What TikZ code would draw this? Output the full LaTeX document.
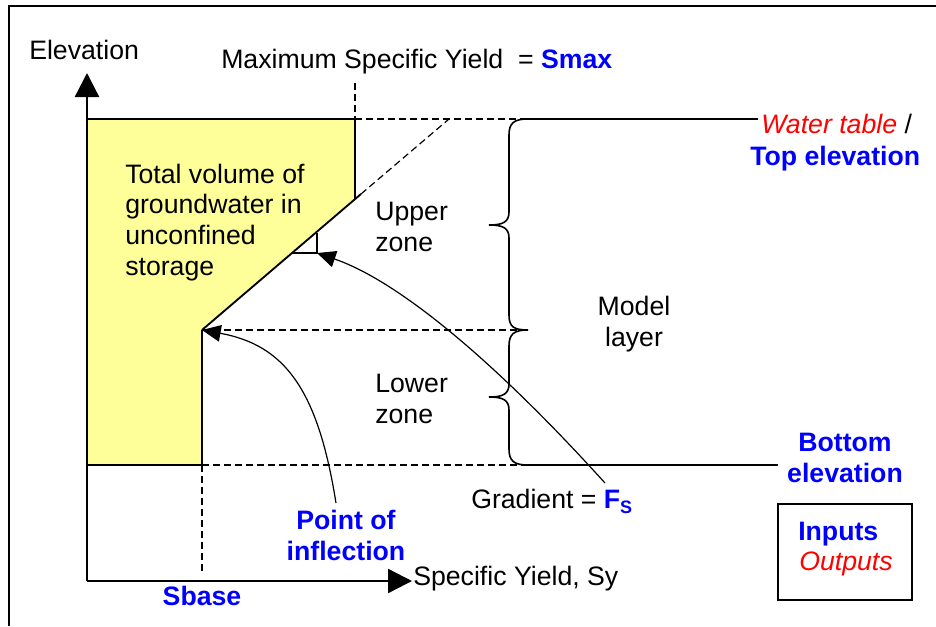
\documentclass[tikz,border=0pt]{standalone}
\usepackage{fontspec}
\setmainfont{Liberation Sans}
\usetikzlibrary{arrows.meta}
\definecolor{inblue}{RGB}{0,0,255}
\definecolor{outred}{RGB}{255,0,0}
\definecolor{storage}{RGB}{255,255,153}

\begin{document}
\begin{tikzpicture}[x=0.75pt,y=-0.75pt,
  lbl/.style={inner sep=0pt, font=\fontsize{20}{23}\selectfont},
  inp/.style={lbl, text=inblue, font=\fontsize{20}{23}\selectfont\bfseries},
  outp/.style={lbl, text=outred, font=\fontsize{20}{23}\selectfont\itshape},
  guide/.style={dash pattern=on 5.25pt off 3pt, line width=0.9pt},
  axis/.style={line width=1.8pt, -{Triangle[length=18pt,width=18pt]}},
  level/.style={line width=1.9pt},
  edge/.style={line width=0.9pt},
  pointer/.style={line width=0.9pt, -{Triangle[length=14pt,width=12.5pt]}},
  bracket/.style={line width=1.2pt},
]
\useasboundingbox (0,0) rectangle (936,626);

% outer frame
\draw[line width=1.1pt] (9,626) -- (9,6) -- (936,6);

% key points of the storage curve
\coordinate (origin) at (87,581);
\coordinate (ytip) at (87,73);
\coordinate (xtip) at (412,581);
\coordinate (topleft) at (87,119);
\coordinate (smaxtop) at (355,119);
\coordinate (smaxcut) at (355,199);
\coordinate (slopeend) at (361,194);
\coordinate (slopetop) at (449,119);
\coordinate (infl) at (202,330);
\coordinate (sbasebot) at (202,465);
\coordinate (botleft) at (87,465);
\coordinate (gradfoot) at (317,253);

% stored volume
\fill[storage] (topleft) -- (smaxtop) -- (smaxcut) -- (infl) -- (sbasebot) -- (botleft) -- cycle;
\draw[edge] (topleft) -- (smaxtop) -- (smaxcut);
\draw[edge] (botleft) -- (sbasebot);
\draw[line width=1.4pt] (infl) -- (slopeend);
\draw[line width=1.8pt] (infl) -- (sbasebot);

% axes
\draw[axis] (origin) -- (ytip);
\draw[axis] (origin) -- (xtip);

% dashed guides
\draw[guide] (355,83) -- (smaxtop);
\draw[guide] (smaxtop) -- (528,119);
\draw[guide] (slopeend) -- (slopetop);
\draw[guide] (infl) -- (528,330);
\draw[guide] (sbasebot) -- (528,465);
\draw[guide] (sbasebot) -- (202,572);

% layer top and bottom
\draw[level] (528,119) -- (758,119);
\draw[level] (528,465) -- (778,465);

% gradient triangle
\draw[edge] (317,233) -- (gradfoot) -- (292,253);

% braces
\draw[bracket] (528,119) .. controls (514,119) and (509,123) .. (509,135) -- (509,212)
  .. controls (509,222) and (503,225) .. (489,225)
  .. controls (503,225) and (509,228) .. (509,238) -- (509,315)
  .. controls (509,327) and (514,330) .. (528,330);
\draw[bracket] (528,330) .. controls (514,330) and (509,334) .. (509,346) -- (509,384)
  .. controls (509,394) and (503,397) .. (489,397)
  .. controls (503,397) and (509,400) .. (509,410) -- (509,449)
  .. controls (509,461) and (514,465) .. (528,465);

% labels (multi-line nodes are placed by the baseline of their last line)
\node[lbl, anchor=base west] (elev) at (29,59) {Elevation};
\node[lbl, anchor=base west] (smax) at (221,68) {Maximum Specific Yield\ \ = \textcolor{inblue}{\bfseries Smax}};
\node[lbl, anchor=base west, align=left] (volume) at (125,275) {Total volume of\\groundwater in\\unconfined\\storage};
\node[lbl, anchor=base west, align=left] (upper) at (375,251) {Upper\\zone};
\node[lbl, anchor=base west, align=left] (lower) at (375,423) {Lower\\zone};
\node[lbl, anchor=base, align=center] (layer) at (634,346) {Model\\layer};
\node[lbl, anchor=base west] (wt) at (761,133) {\textcolor{outred}{\itshape Water table} /};
\node[inp, anchor=base west] (topel) at (750,165) {Top elevation};
\node[inp, anchor=base, align=center] (botel) at (845,482) {Bottom\\elevation};
\node[lbl, anchor=base west] (grad) at (471,508) {Gradient = \textcolor{inblue}{\bfseries F\raisebox{-0.22em}{\fontsize{13.5}{13.5}\selectfont S}}};
\node[inp, anchor=base, align=center] (inflabel) at (346,560) {Point of\\inflection};
\node[inp, anchor=base] (sbase) at (202,605) {Sbase};
\node[lbl, anchor=base west] (sy) at (413,585) {Specific Yield, Sy};

% legend
\node[draw, line width=1pt, minimum width=100.5pt, minimum height=72pt, inner sep=0pt] (legend) at (845,552) {};
\node[inp, anchor=base west] (legin) at (798,540) {Inputs};
\node[outp, anchor=base west] (legout) at (799,570) {Outputs};

% pointers
\coordinate (gradtail) at (605,483);
\coordinate (infltail) at (336,503);
\draw[pointer] (gradtail) .. controls (480,345) and (390,278) .. (gradfoot);
\draw[pointer] (infltail) .. controls (318,390) and (285,345) .. (infl);
\end{tikzpicture}
\end{document}
